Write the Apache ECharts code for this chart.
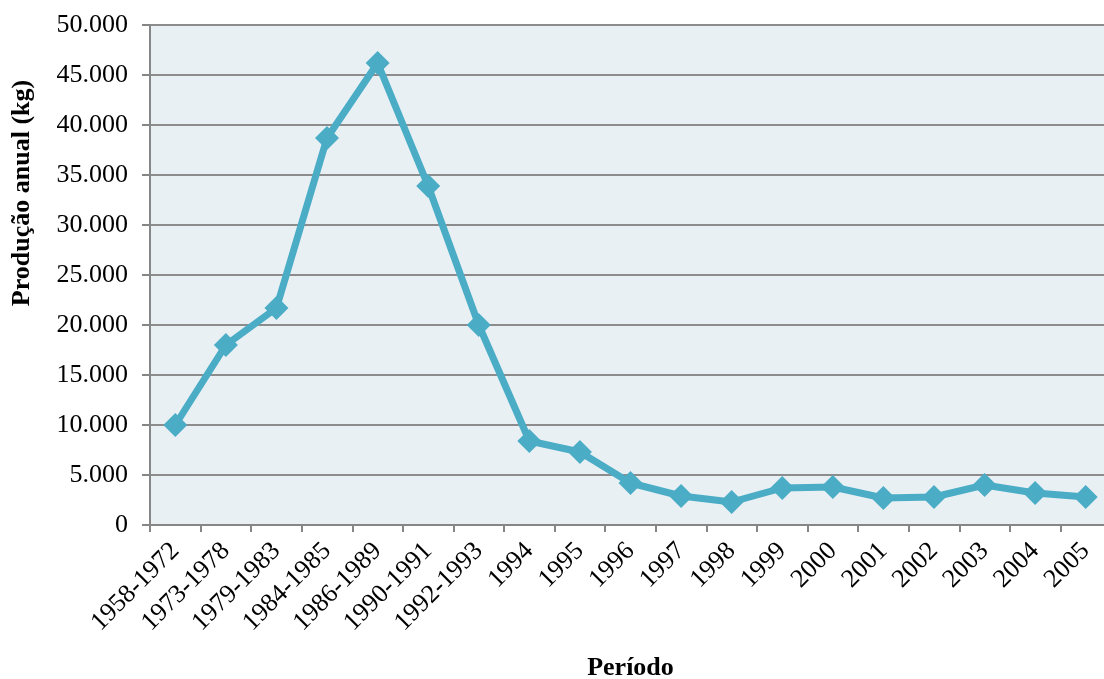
<!DOCTYPE html>
<html>
<head>
<meta charset="utf-8">
<script src="https://cdn.jsdelivr.net/npm/echarts@6/dist/echarts.min.js"></script>
<style>
  html, body { margin: 0; padding: 0; background: #ffffff; }
  #chart { width: 1104px; height: 679px; }
</style>
</head>
<body>
<div id="chart"></div>
<script>
// Períodos (eixo das categorias)
const periodos = [
  '1958-1972', '1973-1978', '1979-1983', '1984-1985', '1986-1989',
  '1990-1991', '1992-1993', '1994', '1995', '1996', '1997', '1998',
  '1999', '2000', '2001', '2002', '2003', '2004', '2005'
];

// Produção anual média em kg por período
const producaoAnual = [
  10000, 18000, 21700, 38700, 46200,
  33900, 20000, 8400, 7300, 4200, 2900, 2300,
  3700, 3800, 2700, 2800, 4000, 3200, 2800
];

// Limites e passo do eixo vertical
const yMin = 0;
const yMax = 50000;
const yStep = 5000;

const tituloY = 'Produção anual (kg)';
const tituloX = 'Período';

const fonte = '"Liberation Serif", "Times New Roman", serif';

function milhares(v) {
  return String(v).replace(/\B(?=(\d{3})+(?!\d))/g, '.');
}

const chart = echarts.init(document.getElementById('chart'), null, { renderer: 'canvas' });

chart.setOption({
  animation: false,
  backgroundColor: '#ffffff',
  grid: {
    left: 150,
    right: -7,
    top: 25,
    bottom: 154,
    containLabel: false,
    outerBoundsMode: 'none',
    show: true,
    backgroundColor: '#e8f0f4',
    borderWidth: 0
  },
  graphic: [{
    type: 'text',
    x: 22,
    y: 193,
    rotation: Math.PI / 2,
    style: {
      text: tituloY,
      font: 'bold 26px ' + fonte,
      fill: '#000',
      align: 'center',
      verticalAlign: 'middle'
    }
  }],
  xAxis: {
    type: 'category',
    data: periodos,
    boundaryGap: true,
    name: tituloX,
    nameLocation: 'middle',
    nameGap: 130,
    nameTextStyle: { fontFamily: fonte, fontWeight: 'bold', fontSize: 26, color: '#000' },
    axisLine: { lineStyle: { color: '#868686', width: 2 } },
    axisTick: { show: true, length: 7, lineStyle: { color: '#868686', width: 2 } },
    axisLabel: {
      rotate: 45,
      interval: 0,
      margin: 22,
      fontFamily: fonte,
      fontSize: 26,
      color: '#000'
    }
  },
  yAxis: {
    type: 'value',
    min: yMin,
    max: yMax,
    interval: yStep,
    axisLine: { show: true, lineStyle: { color: '#868686', width: 2 } },
    axisTick: { show: true, length: 8, lineStyle: { color: '#868686', width: 2 } },
    splitLine: { show: true, lineStyle: { color: '#8c8c8c', width: 2 } },
    axisLabel: {
      margin: 22,
      fontFamily: fonte,
      fontSize: 26,
      color: '#000',
      formatter: milhares
    }
  },
  series: [{
    type: 'line',
    data: producaoAnual,
    symbol: 'diamond',
    symbolSize: 24,
    lineStyle: { color: '#4bacc6', width: 7 },
    itemStyle: { color: '#4bacc6' }
  }]
});
</script>
</body>
</html>
